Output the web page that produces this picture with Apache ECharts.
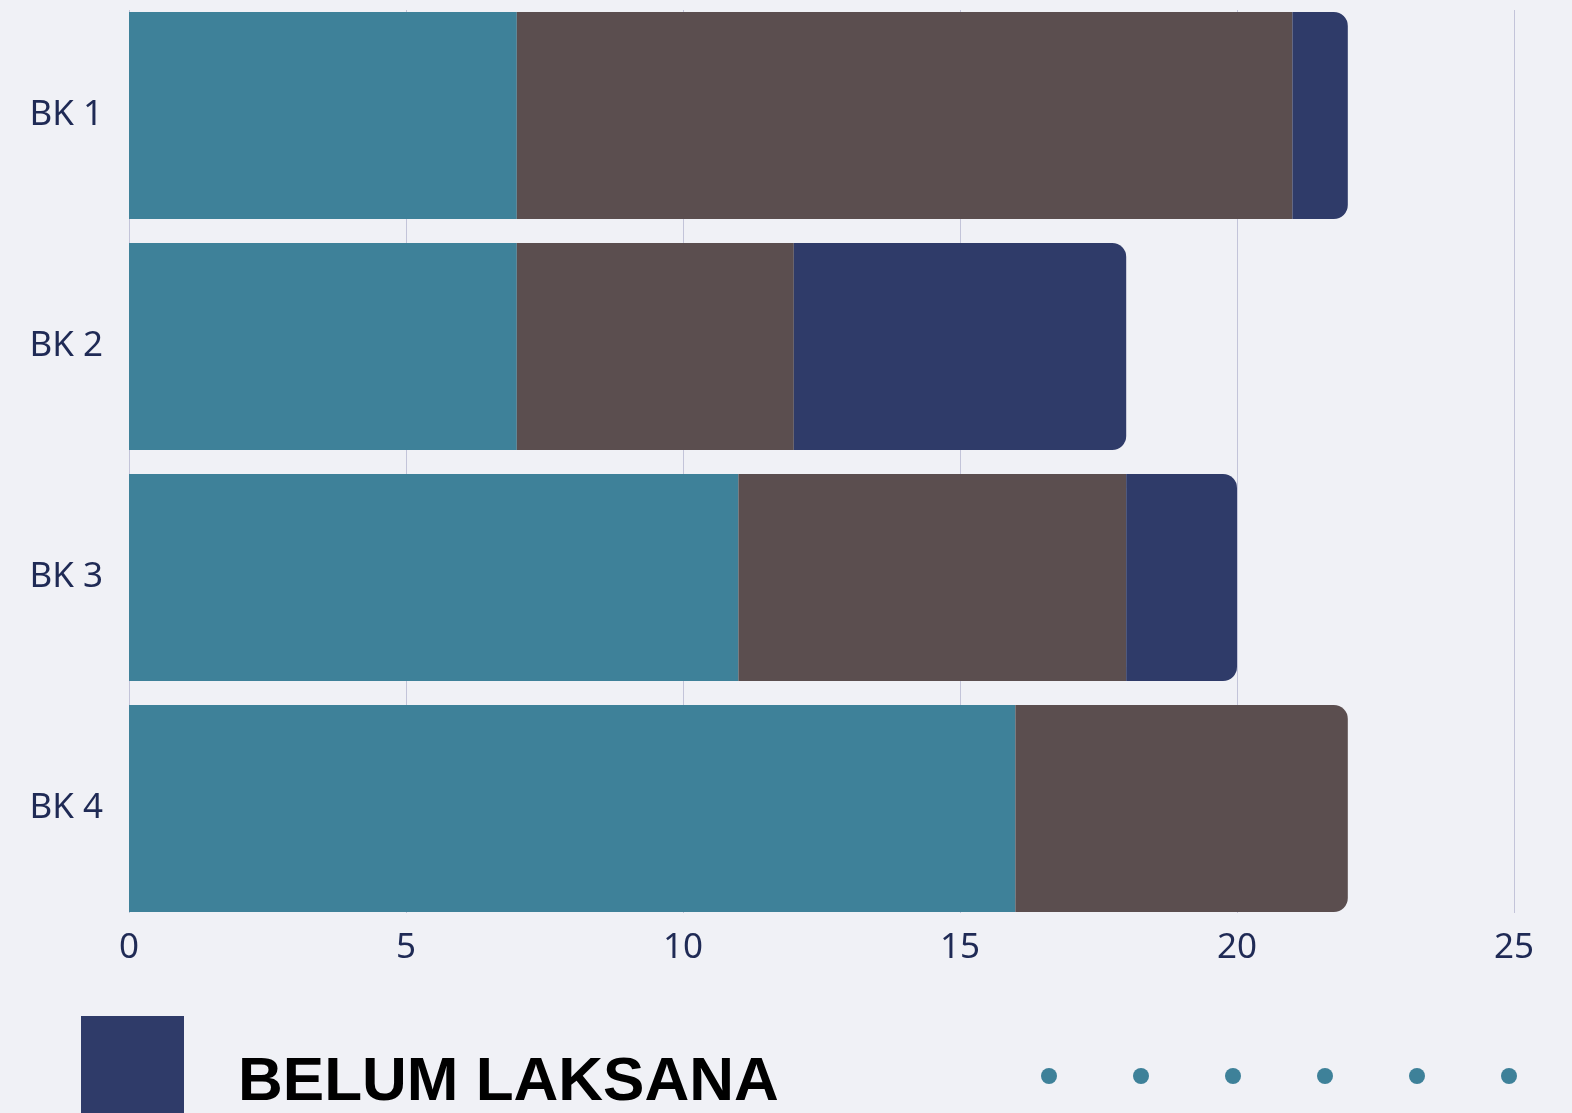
<!DOCTYPE html>
<html>
<head>
<meta charset="utf-8">
<style>
  html, body { margin: 0; padding: 0; background: #f0f1f6; }
  #chart { width: 1572px; height: 1113px; }
</style>
<script src="https://cdn.jsdelivr.net/npm/echarts@6/dist/echarts.min.js"></script>
</head>
<body>
<div id="chart"></div>
<script>
var categories = ['BK 1', 'BK 2', 'BK 3', 'BK 4'];
var seriesNames = ['SUDAH LAKSANA', 'DALAM PROSES', 'BELUM LAKSANA'];
var sudahData = [7, 7, 11, 16];
var prosesData = [14, 5, 7, 6];
var belumData = [1, 6, 2, 0];
var xTicks = [0, 5, 10, 15, 20, 25];

var colors = ['#3e8199', '#5b4e4f', '#2f3b69'];
var allData = [sudahData, prosesData, belumData];

// rounded end only on the last non-zero piece of each bar
function buildData(idx) {
    return allData[idx].map(function (v, i) {
        var last = -1;
        for (var s = 0; s < allData.length; s++) {
            if (allData[s][i] > 0) last = s;
        }
        if (last === idx) {
            return { value: v, itemStyle: { borderRadius: [0, 14, 14, 0] } };
        }
        return v;
    });
}

var chart = echarts.init(document.getElementById('chart'));

var series = seriesNames.map(function (name, idx) {
    return {
        name: name,
        type: 'bar',
        stack: 'total',
        barCategoryGap: '10.37%',
        itemStyle: { color: colors[idx] },
        data: buildData(idx)
    };
});

var dots = [1049, 1141, 1233, 1325, 1417, 1509].map(function (x) {
    return { type: 'circle', shape: { cx: x, cy: 1076, r: 8 }, style: { fill: '#3e8199' } };
});

var option = {
    backgroundColor: '#f0f1f6',
    animation: false,
    grid: { left: 129, right: 58, top: -2, bottom: 189, containLabel: false },
    xAxis: {
        type: 'value',
        min: xTicks[0],
        max: xTicks[xTicks.length - 1],
        interval: 5,
        axisLine: { show: false },
        axisTick: { show: false },
        splitLine: { lineStyle: { color: '#c3c4d9', width: 1 } },
        axisLabel: {
            margin: 7,
            color: '#1f2a55',
            fontSize: 35,
            fontFamily: 'Noto Sans'
        }
    },
    yAxis: {
        type: 'category',
        inverse: true,
        data: categories,
        axisLine: { show: false },
        axisTick: { show: false },
        axisLabel: {
            margin: 26,
            padding: [6, 0, 0, 0],
            color: '#1f2a55',
            fontSize: 35,
            fontFamily: 'Noto Sans'
        }
    },
    series: series,
    graphic: [
        // hide the split line overflow above and below the bars
        { type: 'rect', z: 1, shape: { x: 0, y: 0, width: 1572, height: 10 }, style: { fill: '#f0f1f6' } },
        { type: 'rect', z: 1, shape: { x: 0, y: 913, width: 1572, height: 12 }, style: { fill: '#f0f1f6' } },
        { type: 'rect', shape: { x: 81, y: 1016, width: 103, height: 102 }, style: { fill: '#2f3b69' } },
        {
            type: 'text',
            left: 238,
            top: 1052,
            style: {
                text: 'BELUM LAKSANA',
                fill: '#000000',
                font: 'bold 62px "Liberation Sans"'
            }
        }
    ].concat(dots)
};

chart.setOption(option);
</script>
</body>
</html>
